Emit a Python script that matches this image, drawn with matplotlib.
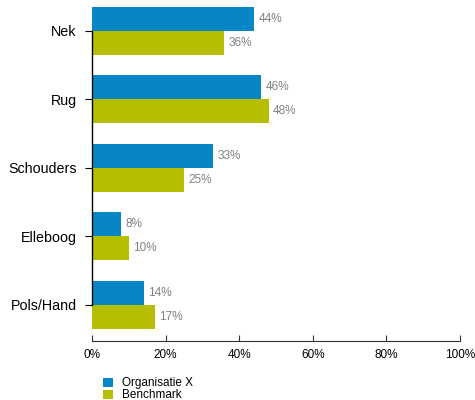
import matplotlib.pyplot as plt
import numpy as np
from matplotlib.ticker import FuncFormatter

plt.rcParams['font.family'] = ['Liberation Sans', 'DejaVu Sans']

categorieen = ['Nek', 'Rug', 'Schouders', 'Elleboog', 'Pols/Hand']
organisatie_x = [44, 46, 33, 8, 14]
benchmark = [36, 48, 25, 10, 17]

kleur_org = '#0686C5'
kleur_bench = '#B5BE00'
kleur_label = '#808080'

fig = plt.figure(figsize=(4.75, 4), dpi=100)
ax = fig.add_axes([0.1937, 0.1475, 0.7747, 0.835])

y = np.arange(len(categorieen))
h = 0.35
ax.barh(y - h / 2, organisatie_x, height=h, color=kleur_org, label='Organisatie X')
ax.barh(y + h / 2, benchmark, height=h, color=kleur_bench, label='Benchmark')

for yi, v in zip(y, organisatie_x):
    ax.text(v + 1.2, yi - h / 2, f'{v}%', va='center', ha='left', fontsize=8.5, color=kleur_label)
for yi, v in zip(y, benchmark):
    ax.text(v + 1.2, yi + h / 2, f'{v}%', va='center', ha='left', fontsize=8.5, color=kleur_label)

ax.set_xlim(0, 100)
ax.set_ylim(len(categorieen) - 1 + 0.53, -h)
ax.set_yticks(y)
ax.set_yticklabels(categorieen, fontsize=10.3)
ax.set_xticks(range(0, 101, 20))
ax.xaxis.set_major_formatter(FuncFormatter(lambda v, p: f'{v:.0f}%'))

ax.spines['top'].set_visible(False)
ax.spines['right'].set_visible(False)
ax.spines['left'].set_bounds(0, len(categorieen) - 1)
ax.spines['left'].set_linewidth(1.0)
ax.spines['bottom'].set_linewidth(0.8)
ax.spines['bottom'].set_color('#333333')

ax.tick_params(axis='y', length=5, width=0.8, pad=6)
ax.tick_params(axis='x', direction='in', length=4, width=0.8, labelsize=8.5, pad=6, color='#333333')

ax.legend(loc='upper left', bbox_to_anchor=(0.018, -0.095), frameon=False, fontsize=8.5,
          handlelength=0.8, handleheight=0.8, labelspacing=0.0, handletextpad=0.8, borderaxespad=0)

plt.savefig('out.png', dpi=100)
plt.close()
